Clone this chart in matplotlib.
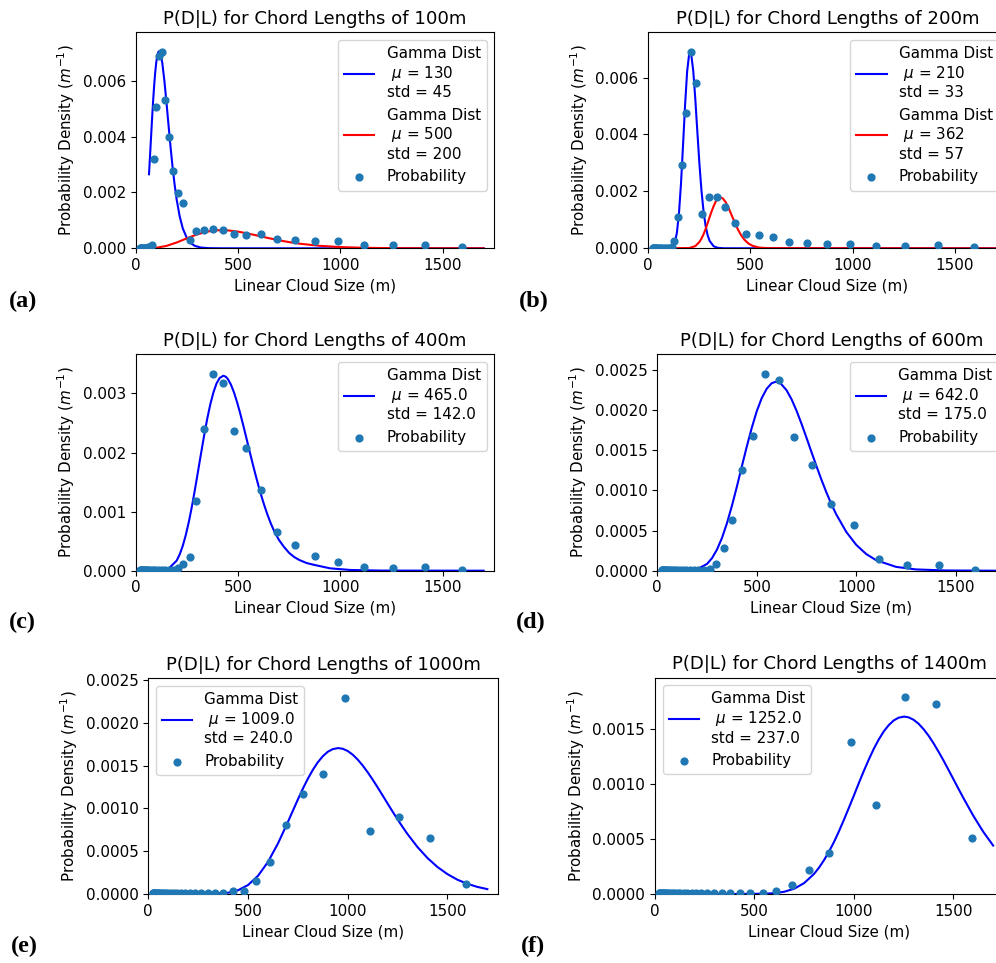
import matplotlib
matplotlib.use("Agg")
import matplotlib.pyplot as plt

plt.rcParams['font.size'] = 10.9

# bin centres of the linear cloud size (m)
sizes = [21.2, 23.9, 26.9, 30.4, 34.2, 38.6, 43.5, 49.1, 55.4, 62.4, 70.4, 79.4,
         89.5, 101, 114, 128, 144, 163, 184, 207, 233, 263, 297, 335, 377, 426,
         480, 541, 610, 688, 776, 875, 987, 1113, 1255, 1415, 1595]

prob_100 = [0.00001, 0.00001, 0.00001, 0.00001, 0.00002, 0.00002, 0.00002, 0.00002,
            0.00002, 0.00003, 0.00005, 0.00012, 0.00321, 0.00506, 0.00688, 0.00703,
            0.00530, 0.00398, 0.00277, 0.00198, 0.00163, 0.00030, 0.00062, 0.00067,
            0.00069, 0.00065, 0.00052, 0.00049, 0.00050, 0.00034, 0.00030, 0.00027,
            0.00025, 0.00011, 0.00011, 0.00011, 0.00003]
prob_200 = [0.00002] * 14 + [
            0.00004, 0.00027, 0.00109, 0.00294, 0.00476, 0.00690, 0.00581, 0.00121,
            0.00182, 0.00182, 0.00144, 0.00089, 0.00052, 0.00046, 0.00040, 0.00021,
            0.00019, 0.00016, 0.00014, 0.00008, 0.00009, 0.00011, 0.00004]
prob_400 = [0.00001] * 18 + [
            0.00002, 0.00004, 0.00011, 0.00023, 0.00118, 0.00240, 0.00333, 0.00318,
            0.00236, 0.00207, 0.00137, 0.00065, 0.00044, 0.00025, 0.00014, 0.00006,
            0.00004, 0.00006, 0.00002]
prob_600 = [0.00001] * 21 + [
            0.00002, 0.00008, 0.00028, 0.00063, 0.00125, 0.00168, 0.00245, 0.00238,
            0.00167, 0.00132, 0.00083, 0.00057, 0.00015, 0.00007, 0.00007, 0.00001]
prob_1000 = [0.00001] * 25 + [
            0.00003, 0.00004, 0.00015, 0.00037, 0.00080, 0.00117, 0.00140, 0.00229,
            0.00074, 0.00090, 0.00065, 0.00012]
prob_1400 = [0.00001] * 28 + [
            0.00003, 0.00008, 0.00022, 0.00037, 0.00138, 0.00081, 0.00179, 0.00173,
            0.00051]

# fitted gamma curves
a_blue_x = [65, 70, 75, 80, 85, 90, 95, 100, 105, 110, 115, 120, 125, 130, 140, 150,
            160, 170, 180, 190, 200, 215, 230, 250, 270, 290, 320, 360, 420, 600, 1700]
a_blue_y = [0.00265, 0.00331, 0.00398, 0.00464, 0.00526, 0.00581, 0.00627, 0.00663,
            0.00688, 0.00702, 0.00706, 0.00700, 0.00685, 0.00663, 0.00601, 0.00525,
            0.00444, 0.00365, 0.00292, 0.00229, 0.00175, 0.00114, 0.000713, 0.000364,
            0.000178, 0.000083, 0.000025, 0.0000045, 0.0000003, 0.0, 0.0]
a_red_x = [20, 65, 100, 150, 200, 250, 300, 350, 400, 450, 500, 550, 600, 650, 700,
           750, 800, 900, 1000, 1100, 1200, 1300, 1450, 1700]
a_red_y = [0.0, 0.000003, 0.000019, 0.0000854, 0.000207, 0.000357, 0.000498, 0.000599,
           0.000646, 0.000642, 0.000597, 0.000527, 0.000446, 0.000363, 0.000287,
           0.000221, 0.000166, 0.000088, 0.000044, 0.000021, 0.0000094, 0.0000041,
           0.0000012, 0.0000002]
b_blue_x = [20, 100, 120, 130, 140, 150, 160, 170, 180, 190, 200, 205, 210, 220, 230,
            240, 250, 260, 270, 280, 290, 300, 320, 340, 370, 1700]
b_blue_y = [0.0, 0.000002, 0.000059, 0.000203, 0.000551, 0.001225, 0.002278, 0.00363,
            0.005038, 0.006212, 0.00684, 0.00691, 0.00682, 0.00623, 0.00524, 0.00409,
            0.00298, 0.00204, 0.00132, 0.000804, 0.000468, 0.000259, 0.00007,
            0.000016, 0.000001, 0.0]
b_red_x = [20, 200, 230, 250, 260, 270, 280, 290, 300, 310, 320, 330, 340, 353, 365,
           380, 395, 410, 425, 440, 455, 470, 490, 510, 540, 580, 1700]
b_red_y = [0.0, 0.000009, 0.000077, 0.000221, 0.000339, 0.000489, 0.000672, 0.000878,
           0.001095, 0.001302, 0.001488, 0.001642, 0.001742, 0.00179, 0.00175,
           0.001604, 0.001383, 0.001126, 0.00087, 0.00064, 0.00045, 0.000303,
           0.000168, 0.000087, 0.000029, 0.0000056, 0.0]
c_x = [20, 120, 160, 200, 215, 230, 245, 260, 275, 290, 305, 320, 335, 350, 365, 380,
       395, 410, 428, 440, 450, 465, 480, 495, 510, 525, 540, 555, 570, 585, 600, 615,
       630, 645, 660, 680, 700, 725, 750, 775, 800, 835, 870, 910, 950, 1050, 1200, 1700]
c_y = [0.0, 0.0000025, 0.000032, 0.00017, 0.000276, 0.000421, 0.000607, 0.000832,
       0.001094, 0.001385, 0.001692, 0.002, 0.002302, 0.002581, 0.002823, 0.003021,
       0.00317, 0.003261, 0.0033, 0.003284, 0.003246, 0.003152, 0.00302, 0.002856,
       0.00267, 0.002467, 0.002257, 0.002043, 0.001832, 0.001629, 0.001435, 0.001254,
       0.001088, 0.000937, 0.000801, 0.000643, 0.00052, 0.0004, 0.0003, 0.00023,
       0.00018, 0.00013, 0.0001, 0.00007, 0.00004, 0.000012, 0.000002, 0.0]
d_x = [20, 150, 200, 250, 275, 300, 325, 350, 375, 400, 425, 450, 475, 500, 525, 550,
       575, 597, 620, 650, 675, 700, 725, 750, 775, 800, 825, 850, 875, 900, 950, 1000,
       1050, 1100, 1200, 1300, 1450, 1700]
d_y = [0.0, 0.0000016, 0.000017, 0.0000846, 0.000156, 0.000263, 0.000407, 0.00059,
       0.000807, 0.001046, 0.001299, 0.001547, 0.00178, 0.001986, 0.00215, 0.002266,
       0.002335, 0.002354, 0.002333, 0.002247, 0.002134, 0.001992, 0.00183, 0.001656,
       0.001478, 0.001303, 0.001134, 0.000976, 0.00083, 0.0007, 0.000483, 0.000322,
       0.000208, 0.000131, 0.0000478, 0.000016, 0.0000027, 0.0]
e_x = [20, 200, 300, 400, 450, 500, 550, 600, 650, 700, 725, 750, 775, 800, 825, 850,
       875, 900, 925, 952, 975, 1000, 1025, 1050, 1075, 1100, 1125, 1150, 1175, 1200,
       1225, 1250, 1275, 1300, 1350, 1400, 1450, 1500, 1550, 1600, 1650, 1700]
e_y = [0.0, 0.0, 0.0000007, 0.0000149, 0.0000437, 0.0001045, 0.000212, 0.000374,
       0.000589, 0.000841, 0.000973, 0.001104, 0.00123, 0.001346, 0.00145, 0.001538,
       0.001609, 0.001661, 0.001692, 0.001704, 0.001696, 0.00167, 0.001627, 0.00157,
       0.001501, 0.001422, 0.001336, 0.001245, 0.001151, 0.001056, 0.000962, 0.000871,
       0.000783, 0.000699, 0.000548, 0.00042, 0.000315, 0.000232, 0.000167, 0.000119,
       0.0000829, 0.000057]
f_x = [20, 400, 550, 600, 650, 700, 750, 800, 825, 850, 875, 900, 925, 950, 975, 1000,
       1025, 1050, 1075, 1100, 1125, 1150, 1175, 1200, 1225, 1252, 1275, 1300, 1325,
       1350, 1375, 1400, 1425, 1450, 1475, 1500, 1525, 1550, 1600, 1650, 1700]
f_y = [0.0, 0.0, 0.0000023, 0.0000075, 0.0000205, 0.0000482, 0.0000995, 0.000184,
       0.000241, 0.000309, 0.000387, 0.000474, 0.000572, 0.000677, 0.000786, 0.000897,
       0.001011, 0.001121, 0.001225, 0.001322, 0.001407, 0.00148, 0.001537, 0.00158,
       0.001605, 0.001615, 0.001608, 0.001586, 0.00155, 0.001501, 0.001442, 0.001373,
       0.001297, 0.001217, 0.001132, 0.001046, 0.00096, 0.000875, 0.000713, 0.000567,
       0.000441]

panels = [
    ('100m', prob_100, [(a_blue_x, a_blue_y, 'b', '130', '45'), (a_red_x, a_red_y, 'r', '500', '200')],
     [0, 0.002, 0.004, 0.006], 'upper right', '(a)'),
    ('200m', prob_200, [(b_blue_x, b_blue_y, 'b', '210', '33'), (b_red_x, b_red_y, 'r', '362', '57')],
     [0, 0.002, 0.004, 0.006], 'upper right', '(b)'),
    ('400m', prob_400, [(c_x, c_y, 'b', '465.0', '142.0')],
     [0, 0.001, 0.002, 0.003], 'upper right', '(c)'),
    ('600m', prob_600, [(d_x, d_y, 'b', '642.0', '175.0')],
     [0, 0.0005, 0.001, 0.0015, 0.002, 0.0025], 'upper right', '(d)'),
    ('1000m', prob_1000, [(e_x, e_y, 'b', '1009.0', '240.0')],
     [0, 0.0005, 0.001, 0.0015, 0.002, 0.0025], 'upper left', '(e)'),
    ('1400m', prob_1400, [(f_x, f_y, 'b', '1252.0', '237.0')],
     [0, 0.0005, 0.001, 0.0015], 'upper left', '(f)'),
]

# axes boxes in pixels: left, top, width, bottom (figure is 996 x 963)
boxes = [(135.7, 32.3, 358.6, 248.3), (648.3, 32.3, 358.1, 248.3),
         (135.7, 354.3, 358.6, 570.7), (657.3, 354.3, 348.5, 570.7),
         (148.3, 678.3, 349.4, 894.0), (655.0, 677.7, 348.5, 894.0)]
label_pos = [(9, 301), (519, 301), (9, 622), (516, 622), (11, 946), (521, 946)]

fig = plt.figure(figsize=(9.96, 9.63), dpi=100)
W, H = 996., 963.

for (chord, prob, curves, yt, loc, tag), (l, t, w, b), (lx, ly) in zip(panels, boxes, label_pos):
    ax = fig.add_axes([l / W, 1 - b / H, w / W, (b - t) / H])
    for cx, cy, col, mu, sd in curves:
        ax.plot(cx, cy, color=col, lw=1.5,
                label='Gamma Dist\n $\\mu$ = ' + mu + '\nstd = ' + sd)
    ax.scatter(sizes, prob, s=24, color='#1f77b4', label='Probability', zorder=3)
    ax.set_xlim(0, 1752)
    ax.set_ylim(0, 1.1 * max(prob))
    ax.set_xticks([0, 500, 1000, 1500])
    ax.set_yticks(yt)
    ax.set_title('P(D|L) for Chord Lengths of ' + chord)
    ax.set_xlabel('Linear Cloud Size (m)')
    ax.set_ylabel('Probability Density ($m^{-1}$)')
    ax.legend(loc=loc)
    fig.text(lx / W, 1 - ly / H, tag, ha='left', va='center', fontsize=17.5,
             fontweight='bold', family='Liberation Serif')

fig.savefig('out.png', dpi=100)
